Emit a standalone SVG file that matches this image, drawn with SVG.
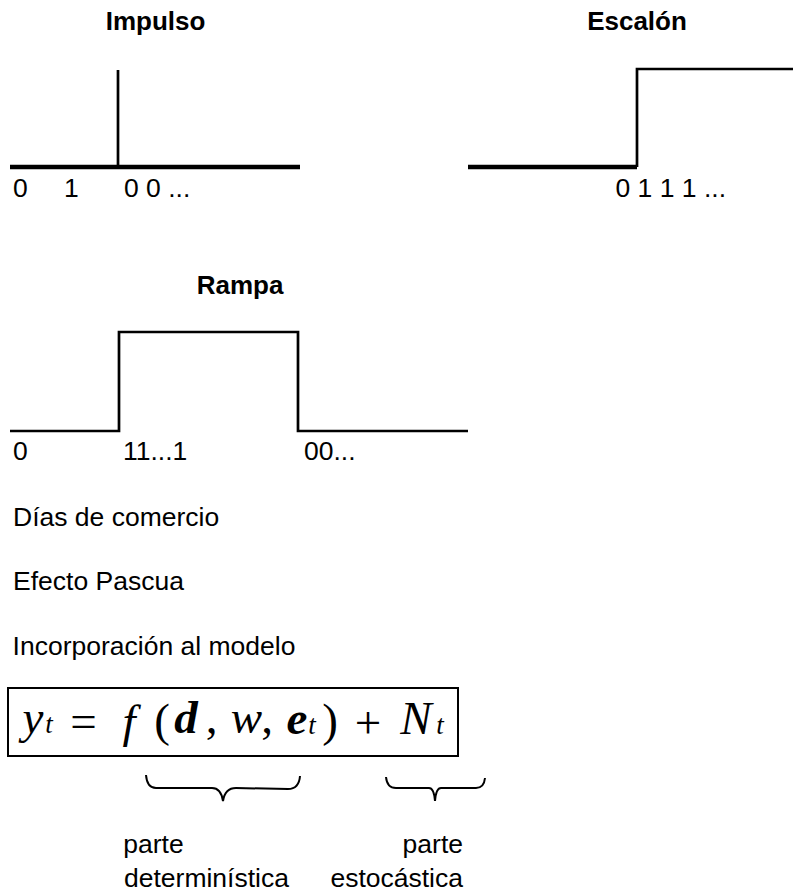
<svg xmlns="http://www.w3.org/2000/svg" width="793" height="892" viewBox="0 0 793 892">
<style>
.t{font-family:"Liberation Sans",Arial,sans-serif;font-size:26.5px;fill:#000}
.b{font-weight:bold;font-size:26px}
.thick{stroke:#000;stroke-width:4.5;fill:none}
.ln{stroke:#000;stroke-width:2.7;fill:none}
.m{font-family:"Liberation Serif","Times New Roman",serif;font-size:47px;font-style:italic;fill:#000;text-anchor:middle}
.mu{font-style:normal}
.mb{font-weight:bold}
.s{font-size:27px}
.br{stroke:#000;stroke-width:2;fill:none}
</style>
<rect width="793" height="892" fill="#fff"/>
<g id="impulso">
<text class="t b" x="155.5" y="30" text-anchor="middle">Impulso</text>
<line class="thick" x1="10" y1="167" x2="300" y2="167"/>
<line class="ln" x1="118" y1="70" x2="118" y2="167"/>
<text class="t" x="13" y="197">0</text>
<text class="t" x="64" y="197">1</text>
<text class="t" x="124" y="197">0 0 ...</text>
</g>
<g id="escalon">
<text class="t b" x="637" y="30" text-anchor="middle">Escalón</text>
<line class="thick" x1="468" y1="167" x2="637" y2="167"/>
<polyline class="ln" points="637,167 637,69 793,69"/>
<text class="t" x="615.5" y="197">0 1 1 1 ...</text>
</g>
<g id="rampa">
<text class="t b" x="240" y="294" text-anchor="middle">Rampa</text>
<polyline class="ln" points="10,431 119,431 119,332 298,332 298,431 468,431" stroke-width="3"/>
<text class="t" x="13" y="460">0</text>
<text class="t" x="123" y="460">11...1</text>
<text class="t" x="304" y="460">00...</text>
</g>
<g id="textos">
<text class="t" x="13" y="526">Días de comercio</text>
<text class="t" x="13" y="590">Efecto Pascua</text>
<text class="t" x="12.6" y="655">Incorporación al modelo</text>
</g>
<g id="formula">
<rect x="8" y="688" width="450" height="68" fill="none" stroke="#000" stroke-width="2"/>
<text class="m" x="33" y="733">y</text>
<text class="m s" x="49" y="733">t</text>
<text class="m mu" x="83.5" y="737" font-size="56">=</text>
<text class="m" x="129" y="737" font-size="54">f</text>
<text class="m mu" x="162" y="736" font-size="52">(</text>
<text class="m mb" x="186" y="733">d</text>
<text class="m mu" x="211.5" y="733">,</text>
<text class="m" x="246.5" y="733">w</text>
<text class="m mu" x="267" y="733">,</text>
<text class="m mb" x="297" y="734">e</text>
<text class="m s" x="312" y="734">t</text>
<text class="m mu" x="330" y="736" font-size="52">)</text>
<text class="m mu" x="368" y="738" font-size="56">+</text>
<text class="m" x="416" y="734" font-size="49">N</text>
<text class="m s" x="440" y="734">t</text>
</g>
<g id="llaves">
<path class="br" d="M146,775 Q147,788 156,788 L212,788 Q221,788 223,801 Q225,788 236,788 L288,789 Q299,789 300,776"/>
<path class="br" d="M386,777 Q387,788 396,788 L429,788 Q434,788 435,801 Q436,788 441,788 L476,788 Q484,788 485,778"/>
</g>
<g id="etiquetas">
<text class="t" x="123.3" y="853">parte</text>
<text class="t" x="124" y="887">determinística</text>
<text class="t" x="463" y="853" text-anchor="end">parte</text>
<text class="t" x="463" y="887" text-anchor="end">estocástica</text>
</g>
</svg>
